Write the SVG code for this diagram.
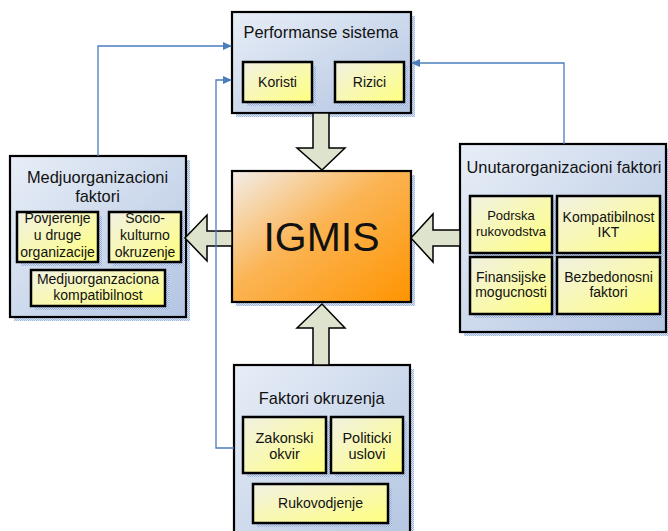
<svg xmlns="http://www.w3.org/2000/svg" width="668" height="531" viewBox="0 0 668 531">
<defs>
  <linearGradient id="gBlue" x1="0" y1="0" x2="1" y2="1">
    <stop offset="0" stop-color="#e8eef7"/>
    <stop offset="1" stop-color="#b3c5e2"/>
  </linearGradient>
  <linearGradient id="gYel" x1="0" y1="0" x2="1" y2="1">
    <stop offset="0" stop-color="#f1f1e4"/>
    <stop offset="1" stop-color="#ffff80"/>
  </linearGradient>
  <linearGradient id="gOr" x1="0" y1="0" x2="1" y2="1">
    <stop offset="0" stop-color="#f2eeea"/>
    <stop offset="0.45" stop-color="#fbb454"/>
    <stop offset="1" stop-color="#ff9400"/>
  </linearGradient>
  <pattern id="dots" width="2" height="2" patternUnits="userSpaceOnUse">
    <rect width="2" height="2" fill="#d3def0"/>
    <rect width="1" height="1" fill="#8aa6d6"/>
    <rect x="1" y="1" width="1" height="1" fill="#8aa6d6"/>
  </pattern>
  <marker id="ah" markerWidth="9" markerHeight="8" refX="8" refY="4" orient="auto" markerUnits="userSpaceOnUse">
    <path d="M0,0 L9,4 L0,8 z" fill="#4a7ebb"/>
  </marker>
</defs>
<style>
  .outer { fill: url(#gBlue); stroke: #000; stroke-width: 2.2; }
  .inner { fill: url(#gYel); stroke: #000; stroke-width: 2.5; }
  .shadow { fill: url(#dots); opacity: 0.8; }
  .core { fill: url(#gOr); stroke: #000; stroke-width: 2.2; }
  .barrow { fill: #dde3cd; stroke: #000; stroke-width: 1.5; stroke-linejoin: miter; }
  .conn { fill: none; stroke: #4a7ebb; stroke-width: 1.3; }
  text { font-family: "Liberation Sans", Arial, sans-serif; fill: #111; text-anchor: middle; }
  .title { font-size: 16.4px; }
  .lbl { font-size: 14px; }
  .big { font-size: 41px; }
</style>

<g id="performanse">
  <rect class="shadow" x="236" y="16" width="179" height="101"/>
  <rect class="outer" x="232" y="12" width="179" height="101"/>
  <text class="title" x="321" y="37.5">Performanse sistema</text>
  <g id="koristi">
    <rect class="shadow" x="247" y="66" width="69" height="40"/>
    <rect class="inner" x="243" y="62" width="69" height="40"/>
    <text class="lbl" x="277.5" y="87">Koristi</text>
  </g>
  <g id="rizici">
    <rect class="shadow" x="339" y="66" width="69" height="40"/>
    <rect class="inner" x="335" y="62" width="69" height="40"/>
    <text class="lbl" x="369.5" y="87">Rizici</text>
  </g>
</g>

<g id="medjuorganizacioni">
  <rect class="shadow" x="14" y="160" width="176" height="161"/>
  <rect class="outer" x="10" y="156" width="176" height="161"/>
  <text class="title" x="97.5" y="182.7">Medjuorganizacioni</text>
  <text class="title" x="97.5" y="201.7">faktori</text>
  <g id="povjerenje">
    <rect class="shadow" x="21" y="216" width="81" height="50"/>
    <rect class="inner" x="17" y="212" width="81" height="50"/>
    <text class="lbl" x="57.5" y="223">Povjerenje</text>
    <text class="lbl" x="57.5" y="240">u druge</text>
    <text class="lbl" x="57.5" y="256.7">organizacije</text>
  </g>
  <g id="socio">
    <rect class="shadow" x="113" y="216" width="72" height="50"/>
    <rect class="inner" x="109" y="212" width="72" height="50"/>
    <text class="lbl" x="145" y="223">Socio-</text>
    <text class="lbl" x="145" y="240">kulturno</text>
    <text class="lbl" x="145" y="256.7">okruzenje</text>
  </g>
  <g id="medjukompat">
    <rect class="shadow" x="35" y="274" width="134" height="36"/>
    <rect class="inner" x="31" y="270" width="134" height="36"/>
    <text class="lbl" x="98" y="284">Medjuorganzaciona</text>
    <text class="lbl" x="98" y="300">kompatibilnost</text>
  </g>
</g>

<g id="unutarorganizacioni">
  <rect class="shadow" x="464" y="148" width="206" height="188"/>
  <rect class="outer" x="460" y="144" width="206" height="188"/>
  <text class="title" x="564" y="173">Unutarorganizacioni faktori</text>
  <g id="podrska">
    <rect class="shadow" x="474" y="200" width="82" height="57"/>
    <rect class="inner" x="470" y="196" width="82" height="57"/>
    <text class="lbl" x="511" y="220" style="font-size:13px">Podrska</text>
    <text class="lbl" x="511" y="235.5" style="font-size:13px">rukovodstva</text>
  </g>
  <g id="kompatibilnost">
    <rect class="shadow" x="561" y="200" width="103" height="57"/>
    <rect class="inner" x="557" y="196" width="103" height="57"/>
    <text class="lbl" x="608.5" y="221.5">Kompatibilnost</text>
    <text class="lbl" x="608.5" y="236.7">IKT</text>
  </g>
  <g id="finansijske">
    <rect class="shadow" x="474" y="261" width="82" height="57"/>
    <rect class="inner" x="470" y="257" width="82" height="57"/>
    <text class="lbl" x="511" y="281.7">Finansijske</text>
    <text class="lbl" x="511" y="296.7">mogucnosti</text>
  </g>
  <g id="bezbedonosni">
    <rect class="shadow" x="561" y="261" width="103" height="57"/>
    <rect class="inner" x="557" y="257" width="103" height="57"/>
    <text class="lbl" x="608.5" y="281.7">Bezbedonosni</text>
    <text class="lbl" x="608.5" y="296.7">faktori</text>
  </g>
</g>

<g id="igmis">
  <rect class="shadow" x="236" y="175" width="179" height="131"/>
  <rect class="core" x="232" y="171" width="179" height="131"/>
  <text class="big" x="321.5" y="250.5">IGMIS</text>
</g>

<g id="faktori-okruzenja">
  <rect class="shadow" x="238" y="369" width="176" height="180"/>
  <rect class="outer" x="234" y="365" width="176" height="180"/>
  <text class="title" x="321.7" y="404">Faktori okruzenja</text>
  <g id="zakonski">
    <rect class="shadow" x="247" y="421" width="83" height="56"/>
    <rect class="inner" x="243" y="417" width="83" height="56"/>
    <text class="lbl" x="284.5" y="443.3" style="font-size:14.5px">Zakonski</text>
    <text class="lbl" x="284.5" y="458.5" style="font-size:14.5px">okvir</text>
  </g>
  <g id="politicki">
    <rect class="shadow" x="335" y="421" width="72" height="56"/>
    <rect class="inner" x="331" y="417" width="72" height="56"/>
    <text class="lbl" x="367" y="443.3" style="font-size:14.5px">Politicki</text>
    <text class="lbl" x="367" y="458.5" style="font-size:14.5px">uslovi</text>
  </g>
  <g id="rukovodjenje">
    <rect class="shadow" x="257" y="488" width="135" height="39"/>
    <rect class="inner" x="253" y="484" width="135" height="39"/>
    <text class="lbl" x="320.5" y="508">Rukovodjenje</text>
  </g>
</g>

<g id="block-arrows">
  <polygon class="barrow" points="313,113 329,113 329,148 345,148 322,170 297,148 313,148"/>
  <polygon class="barrow" points="232,231 207,231 207,215 185,238 207,261 207,246 232,246"/>
  <polygon class="barrow" points="460,230 433,230 433,214 411,238 433,262 433,246 460,246"/>
  <polygon class="barrow" points="313,365 313,328 297,328 322,304 345,328 329,328 329,365"/>
</g>

<g id="connectors">
  <path class="conn" d="M98,156 V46 H231" marker-end="url(#ah)"/>
  <path class="conn" d="M234,448 H216 V80 H231" marker-end="url(#ah)"/>
  <path class="conn" d="M564,144 V63 H412" marker-end="url(#ah)"/>
</g>
</svg>
